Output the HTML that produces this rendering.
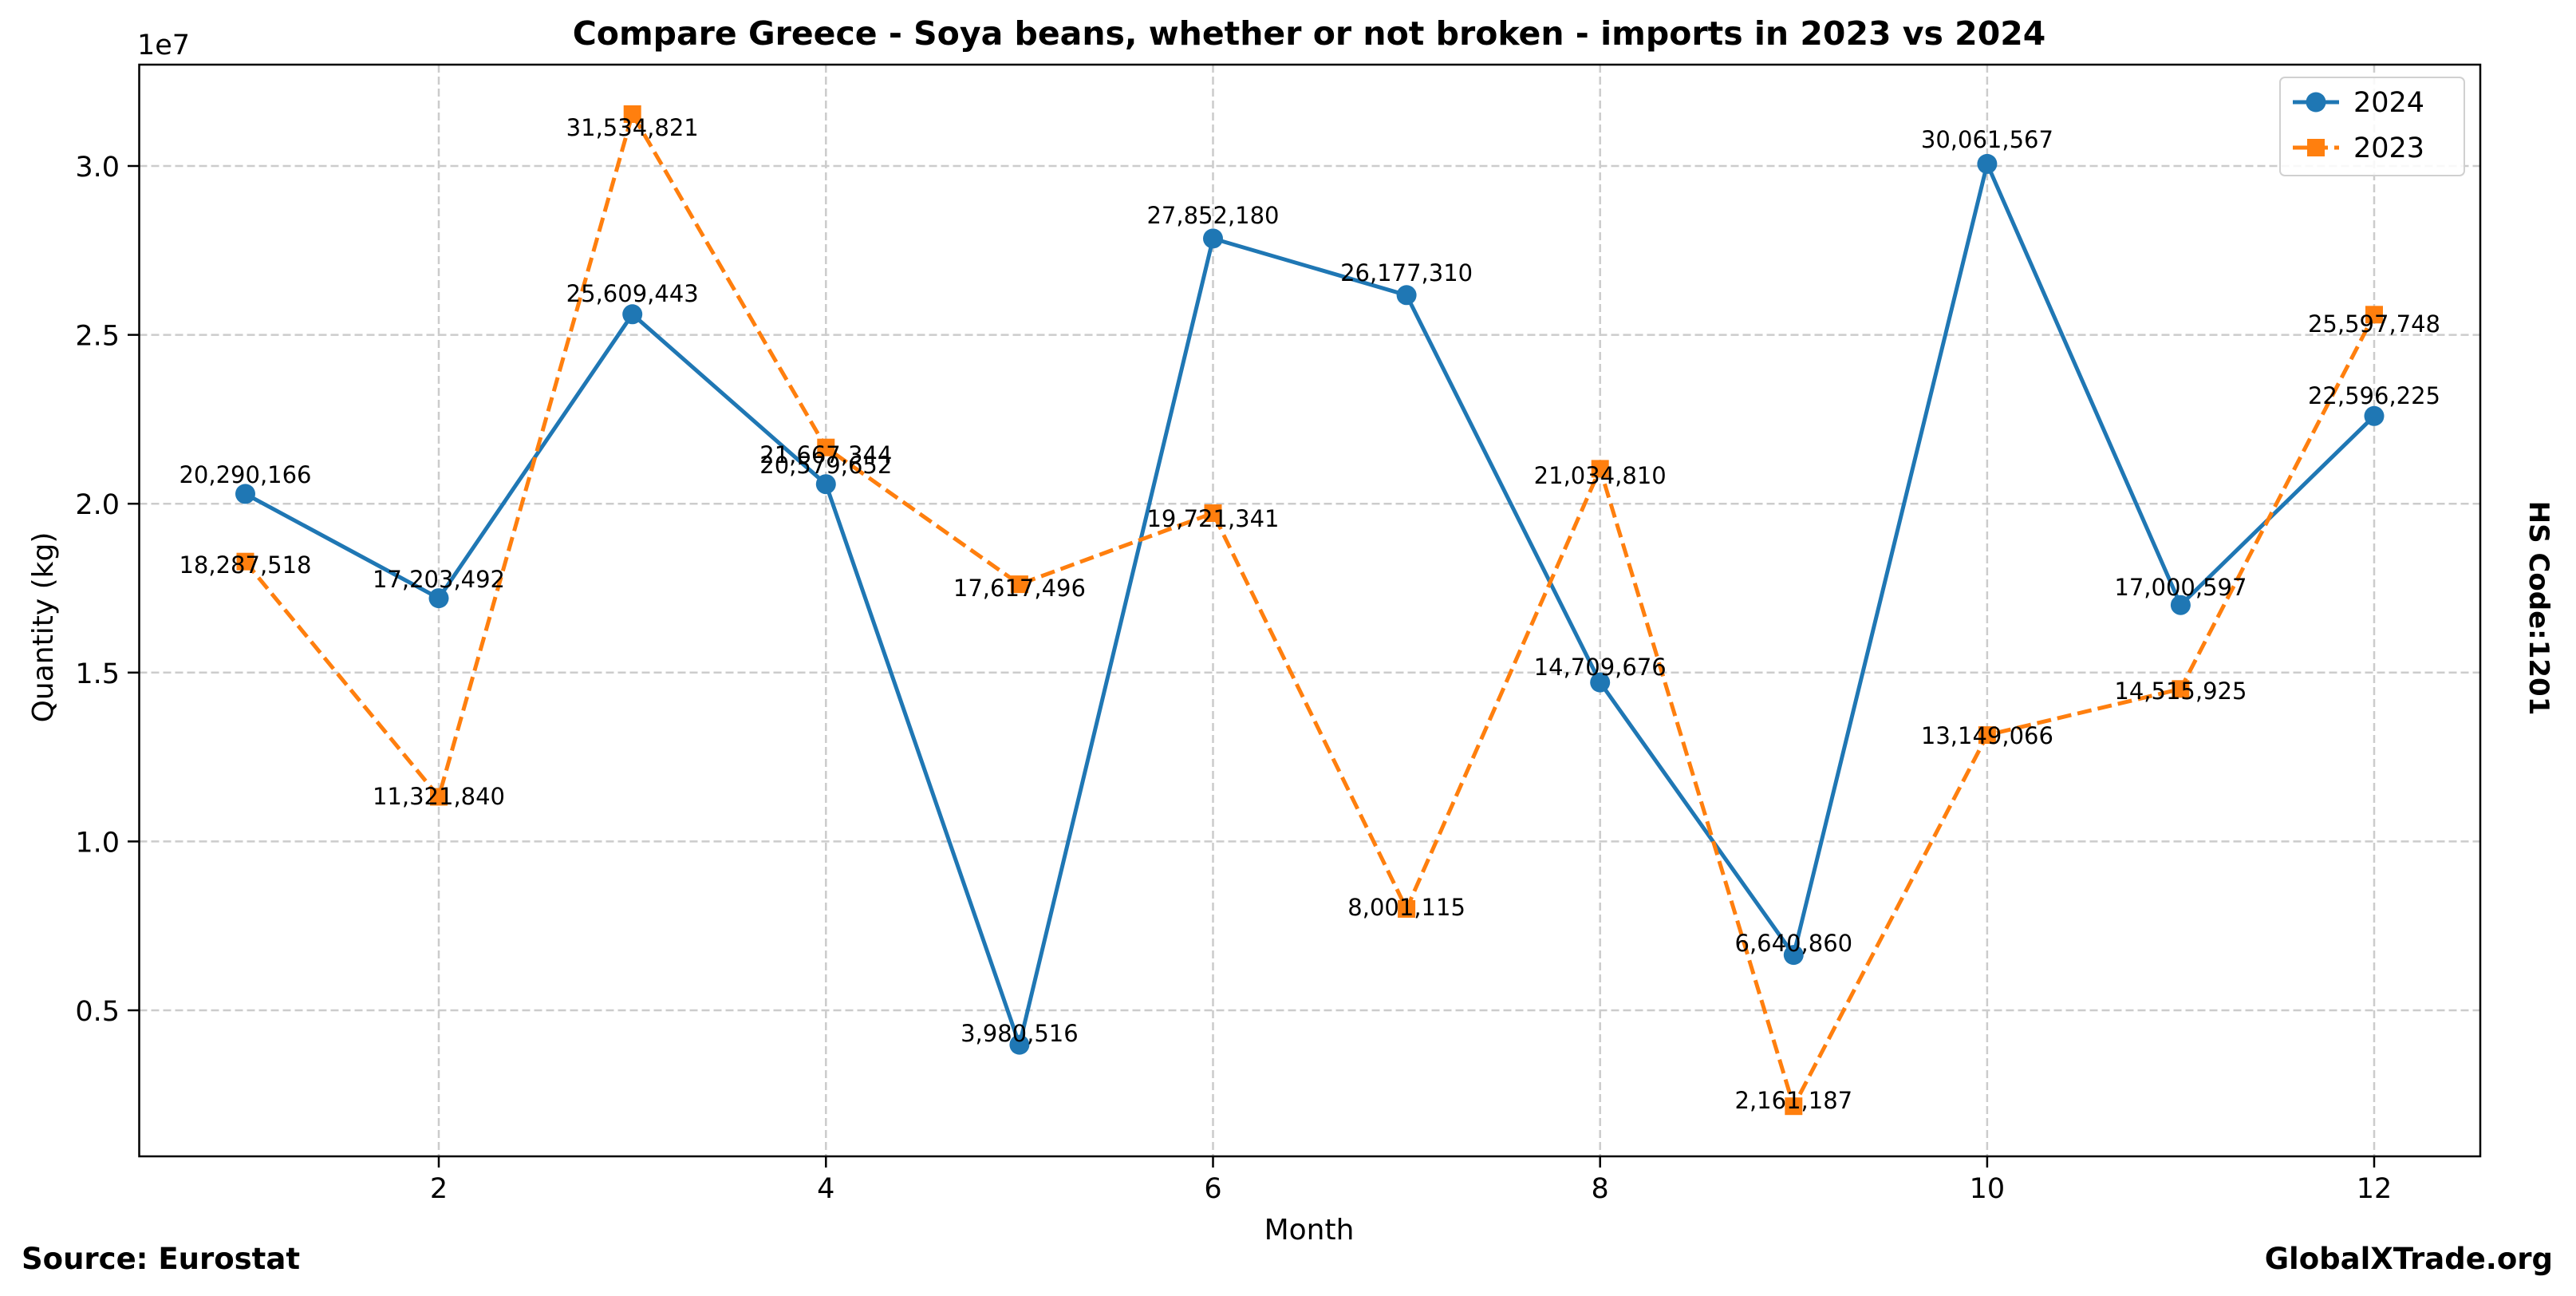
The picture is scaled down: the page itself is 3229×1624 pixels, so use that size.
<!DOCTYPE html>
<html><head><meta charset="utf-8"><style>html,body{margin:0;padding:0;background:#fff}svg{display:block}text{font-family:"DejaVu Sans","Liberation Sans",sans-serif}</style></head><body>
<svg width="3229" height="1624" viewBox="0 0 3229 1624" xmlns="http://www.w3.org/2000/svg">
<rect width="3229" height="1624" fill="#fff"/>
<g stroke="#cccccc" stroke-width="2.5" stroke-dasharray="10,5">
<line x1="550" y1="81" x2="550" y2="1449"/><line x1="1035.3" y1="81" x2="1035.3" y2="1449"/><line x1="1520.5" y1="81" x2="1520.5" y2="1449"/><line x1="2005.7" y1="81" x2="2005.7" y2="1449"/><line x1="2490.9" y1="81" x2="2490.9" y2="1449"/><line x1="2976" y1="81" x2="2976" y2="1449"/>
<line x1="174.5" y1="208" x2="3109" y2="208"/><line x1="174.5" y1="419.6" x2="3109" y2="419.6"/><line x1="174.5" y1="631.2" x2="3109" y2="631.2"/><line x1="174.5" y1="842.8" x2="3109" y2="842.8"/><line x1="174.5" y1="1054.4" x2="3109" y2="1054.4"/><line x1="174.5" y1="1266" x2="3109" y2="1266"/>
</g>
<g stroke="#000" stroke-width="2.5">
<line x1="550" y1="1449" x2="550" y2="1463"/><line x1="1035.3" y1="1449" x2="1035.3" y2="1463"/><line x1="1520.5" y1="1449" x2="1520.5" y2="1463"/><line x1="2005.7" y1="1449" x2="2005.7" y2="1463"/><line x1="2490.9" y1="1449" x2="2490.9" y2="1463"/><line x1="2976" y1="1449" x2="2976" y2="1463"/>
<line x1="160" y1="208" x2="174.5" y2="208"/><line x1="160" y1="419.6" x2="174.5" y2="419.6"/><line x1="160" y1="631.2" x2="174.5" y2="631.2"/><line x1="160" y1="842.8" x2="174.5" y2="842.8"/><line x1="160" y1="1054.4" x2="174.5" y2="1054.4"/><line x1="160" y1="1266" x2="174.5" y2="1266"/>
</g>
<g font-size="35" fill="#000" text-anchor="middle">
<text x="550" y="1501">2</text><text x="1035.3" y="1501">4</text><text x="1520.5" y="1501">6</text><text x="2005.7" y="1501">8</text><text x="2490.9" y="1501">10</text><text x="2976" y="1501">12</text>
</g>
<g font-size="35" fill="#000" text-anchor="end">
<text x="150" y="221">3.0</text><text x="150" y="432.6">2.5</text><text x="150" y="644.2">2.0</text><text x="150" y="855.8">1.5</text><text x="150" y="1067.4">1.0</text><text x="150" y="1279">0.5</text>
</g>
<text x="172" y="68" font-size="35">1e7</text>
<text x="1641" y="1553" font-size="36" text-anchor="middle">Month</text>
<text transform="translate(66,786) rotate(-90)" font-size="36" text-anchor="middle">Quantity (kg)</text>
<text x="1641" y="56" font-size="41" font-weight="bold" text-anchor="middle">Compare Greece - Soya beans, whether or not broken - imports in 2023 vs 2024</text>
<text x="27" y="1590" font-size="37" font-weight="bold">Source: Eurostat</text>
<text x="3200" y="1590" font-size="37" font-weight="bold" text-anchor="end">GlobalXTrade.org</text>
<text transform="translate(3171,762) rotate(90)" font-size="34" font-weight="bold" text-anchor="middle">HS Code:1201</text>
<polyline fill="none" stroke="#1f77b4" stroke-width="5" points="307.5,618.9 550,749.6 792.7,393.8 1035.3,606.7 1277.9,1309.1 1520.5,298.9 1763.1,369.8 2005.7,855.1 2248.3,1196.6 2490.9,205.4 2733.4,758.2 2976,521.3"/>
<polyline fill="none" stroke="#ff7f0e" stroke-width="5" stroke-dasharray="18,8" points="307.5,703.7 550,998.5 792.7,143 1035.3,560.7 1277.9,732.1 1520.5,643 1763.1,1139 2005.7,587.4 2248.3,1386.2 2490.9,921.1 2733.4,863.3 2976,394.3"/>
<g fill="#1f77b4">
<circle cx="307.5" cy="618.9" r="12.5"/><circle cx="550" cy="749.6" r="12.5"/><circle cx="792.7" cy="393.8" r="12.5"/><circle cx="1035.3" cy="606.7" r="12.5"/><circle cx="1277.9" cy="1309.1" r="12.5"/><circle cx="1520.5" cy="298.9" r="12.5"/><circle cx="1763.1" cy="369.8" r="12.5"/><circle cx="2005.7" cy="855.1" r="12.5"/><circle cx="2248.3" cy="1196.6" r="12.5"/><circle cx="2490.9" cy="205.4" r="12.5"/><circle cx="2733.4" cy="758.2" r="12.5"/><circle cx="2976" cy="521.3" r="12.5"/>
</g>
<g fill="#ff7f0e">
<rect x="296.5" y="692.7" width="22" height="22"/><rect x="539" y="987.5" width="22" height="22"/><rect x="781.7" y="132" width="22" height="22"/><rect x="1024.3" y="549.7" width="22" height="22"/><rect x="1266.9" y="721.1" width="22" height="22"/><rect x="1509.5" y="632" width="22" height="22"/><rect x="1752.1" y="1128" width="22" height="22"/><rect x="1994.7" y="576.4" width="22" height="22"/><rect x="2237.3" y="1375.2" width="22" height="22"/><rect x="2479.9" y="910.1" width="22" height="22"/><rect x="2722.4" y="852.3" width="22" height="22"/><rect x="2965" y="383.3" width="22" height="22"/>
</g>
<g font-size="29" fill="#000" text-anchor="middle">
<text x="307.5" y="605">20,290,166</text><text x="550" y="736">17,203,492</text><text x="792.7" y="378">25,609,443</text><text x="1035.3" y="593">20,579,652</text><text x="1277.9" y="1305">3,980,516</text><text x="1520.5" y="280">27,852,180</text><text x="1763.1" y="352">26,177,310</text><text x="2005.7" y="846">14,709,676</text><text x="2248.3" y="1192">6,640,860</text><text x="2490.9" y="185">30,061,567</text><text x="2733.4" y="746">17,000,597</text><text x="2976" y="506">22,596,225</text>
<text x="307.5" y="718">18,287,518</text><text x="550" y="1008">11,321,840</text><text x="792.7" y="170">31,534,821</text><text x="1035.3" y="580">21,667,344</text><text x="1277.9" y="747">17,617,496</text><text x="1520.5" y="660">19,721,341</text><text x="1763.1" y="1147">8,001,115</text><text x="2005.7" y="606">21,034,810</text><text x="2248.3" y="1389">2,161,187</text><text x="2490.9" y="932">13,149,066</text><text x="2733.4" y="876">14,515,925</text><text x="2976" y="416">25,597,748</text>
</g>
<rect x="174.5" y="81" width="2934.5" height="1368" fill="none" stroke="#000" stroke-width="2.5"/>
<rect x="2858" y="97" width="231" height="123" rx="6" fill="#fff" fill-opacity="0.85" stroke="#d0d0d0" stroke-width="2"/>
<line x1="2874" y1="128" x2="2932" y2="128" stroke="#1f77b4" stroke-width="5"/><circle cx="2903" cy="128" r="12.5" fill="#1f77b4"/>
<line x1="2874" y1="185" x2="2932" y2="185" stroke="#ff7f0e" stroke-width="5" stroke-dasharray="18,8"/><rect x="2892" y="174" width="22" height="22" fill="#ff7f0e"/>
<text x="2950" y="140" font-size="35">2024</text><text x="2950" y="197" font-size="35">2023</text>
</svg>
</body></html>
